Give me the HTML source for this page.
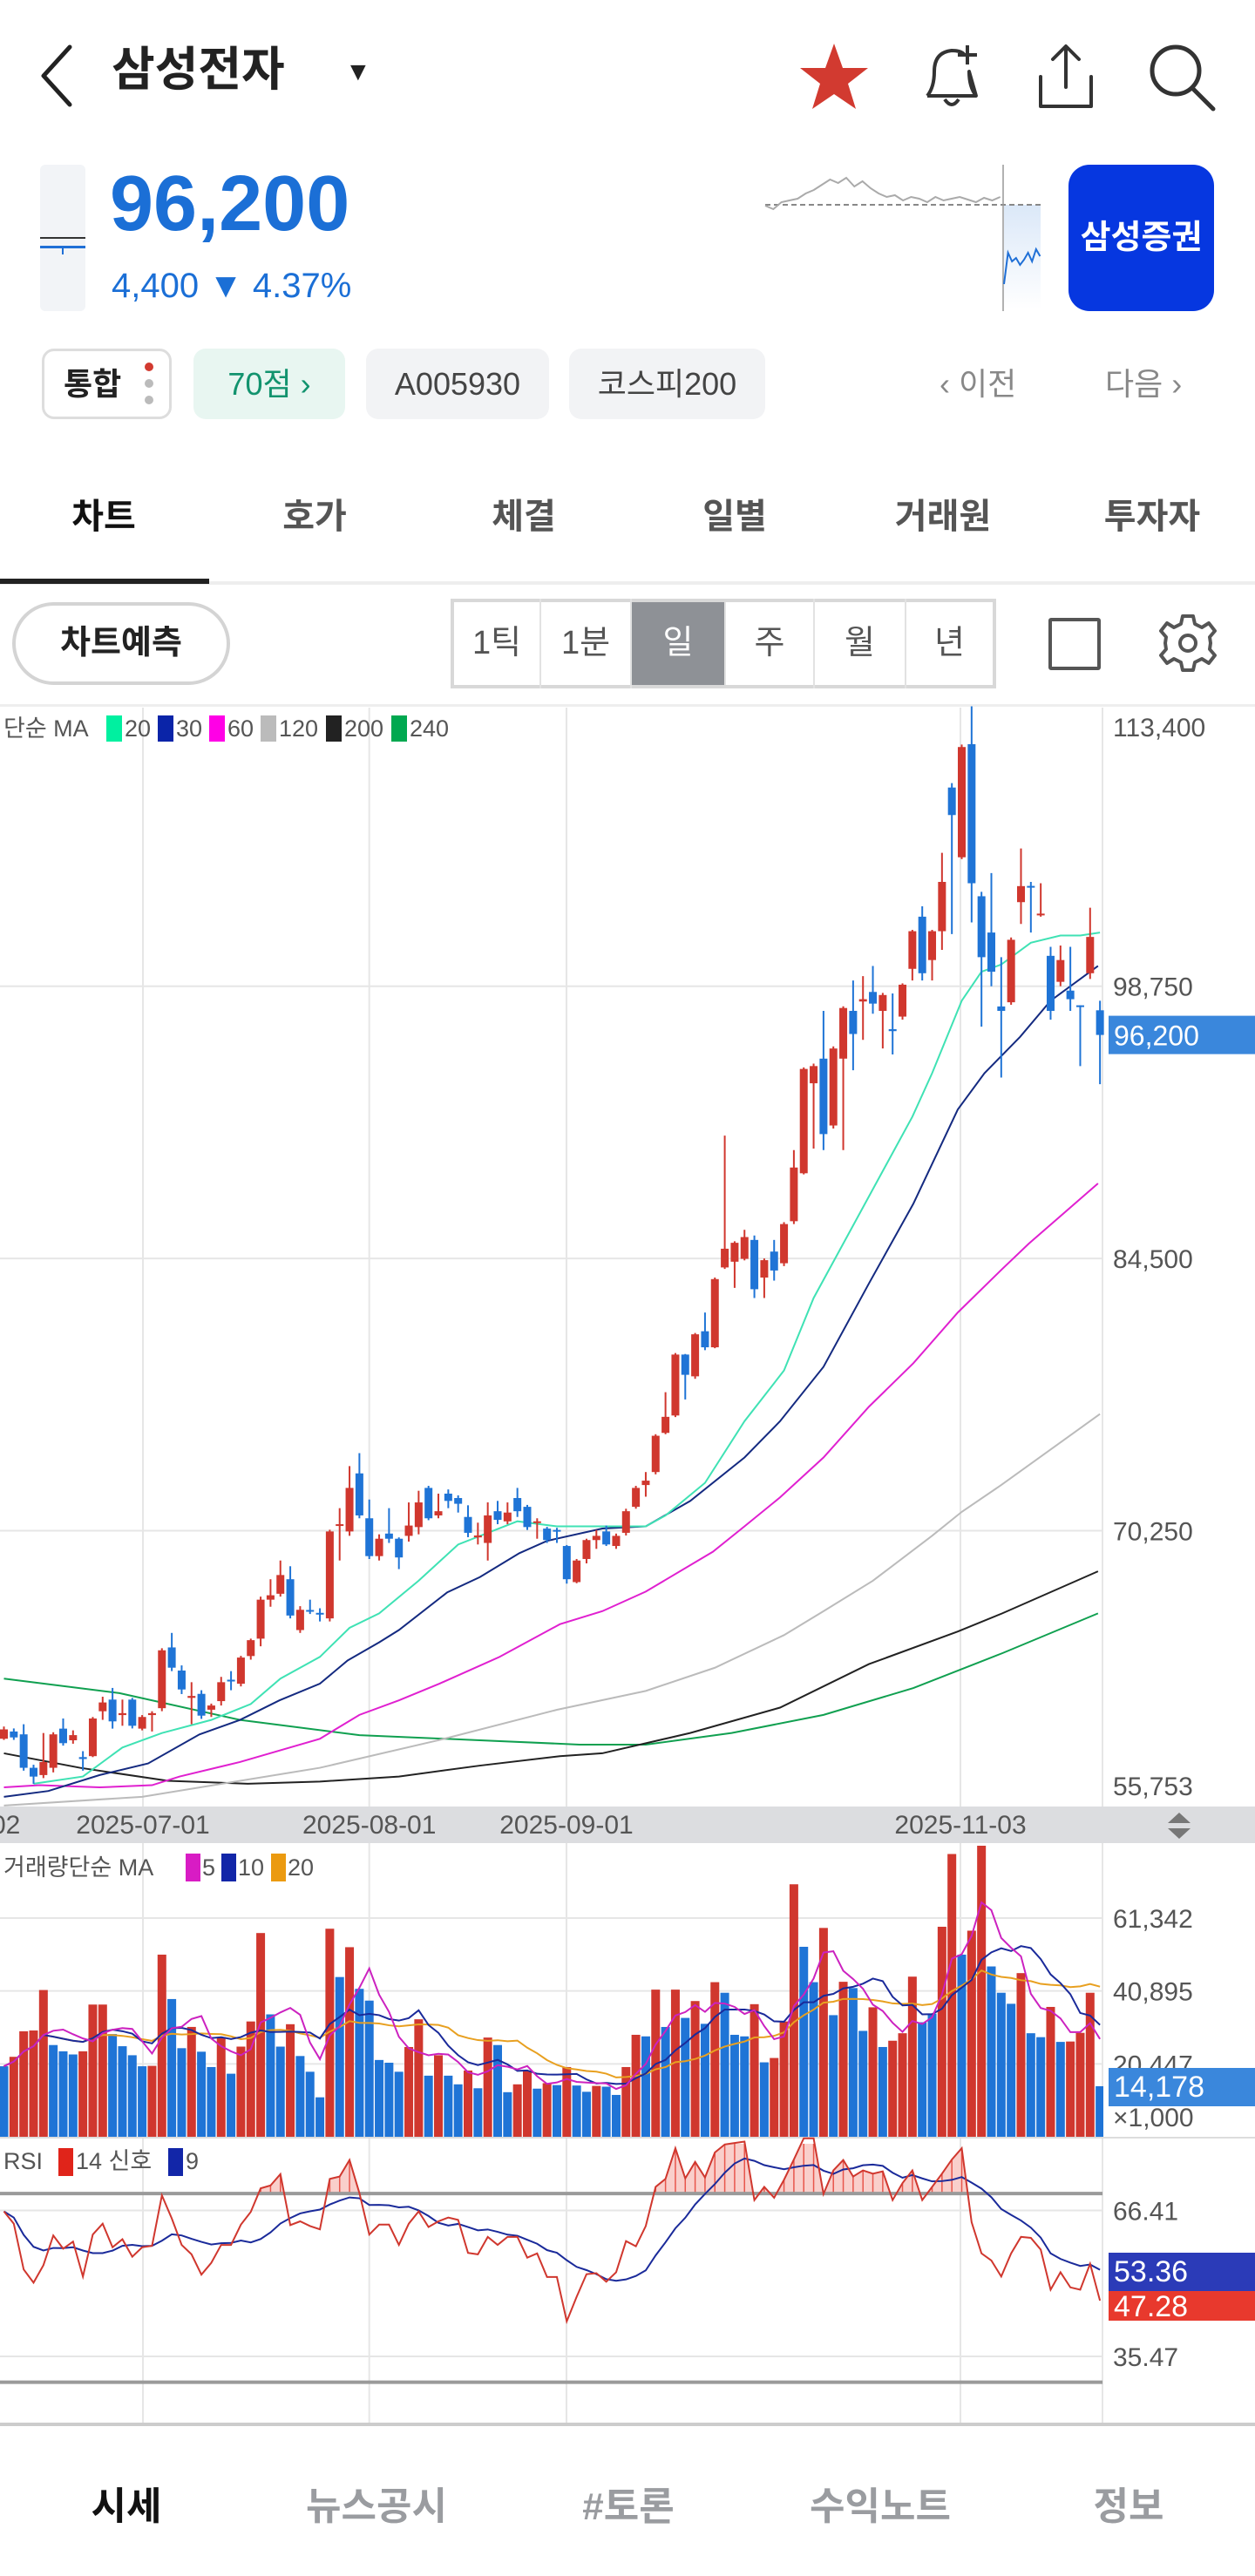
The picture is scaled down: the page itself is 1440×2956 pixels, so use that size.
<!DOCTYPE html>
<html lang="ko"><head><meta charset="utf-8">
<style>
*{box-sizing:border-box;margin:0;padding:0}
body{width:1440px;height:2956px;background:#fff;position:relative;overflow:hidden;font-family:"Liberation Sans","Noto Sans CJK KR",sans-serif;color:#222}
.abs{position:absolute}
.chip{position:absolute;top:400px;height:81px;border-radius:14px;background:#f2f3f5;font-size:36px;line-height:81px;text-align:center;color:#444}
.tab{position:absolute;top:560px;width:200px;margin-left:-100px;text-align:center;font-size:40px;font-weight:bold;color:#555}
.seg{position:absolute;top:687px;height:103px;line-height:103px;text-align:center;font-size:38px;color:#555;border-right:2px solid #e2e2e2}
.nav{position:absolute;top:2840px;font-size:44px;font-weight:bold;color:#9a9ca0;transform:translateX(-50%)}
</style></head><body>
<!-- header -->
<svg class="abs" style="left:40px;top:50px" width="50" height="75"><polyline points="40,4 10,37 40,70" fill="none" stroke="#222" stroke-width="5" stroke-linecap="round" stroke-linejoin="round"/></svg>
<div class="abs" style="left:128px;top:48px;font-size:54px;font-weight:bold;line-height:64px">삼성전자</div>
<div class="abs" style="left:396px;top:66px;font-size:30px">▼</div>
<svg class="abs" style="left:916px;top:48px" width="82" height="80"><polygon points="41,2 51,30 80,30 57,48 66,77 41,60 16,77 25,48 2,30 31,30" fill="#d23a30"/></svg>
<svg class="abs" style="left:1052px;top:48px" width="80" height="80"><path d="M12,62 Q20,52 20,34 Q20,12 40,10 Q50,10 54,14 M60,34 Q60,52 68,62 Z M12,62 L68,62 M32,66 Q40,78 48,66" fill="none" stroke="#333" stroke-width="4" stroke-linejoin="round"/><path d="M58,4 v22 M47,15 h22" stroke="#333" stroke-width="4"/></svg>
<svg class="abs" style="left:1186px;top:48px" width="75" height="80"><path d="M37,6 V52 M22,20 L37,5 L52,20 M8,40 V74 H66 V40" fill="none" stroke="#333" stroke-width="4" stroke-linejoin="round" stroke-linecap="round"/></svg>
<svg class="abs" style="left:1316px;top:48px" width="80" height="80"><circle cx="33" cy="33" r="27" fill="none" stroke="#333" stroke-width="5"/><line x1="52" y1="53" x2="76" y2="77" stroke="#333" stroke-width="5" stroke-linecap="round"/></svg>
<!-- price block -->
<div class="abs" style="left:46px;top:189px;width:52px;height:168px;background:#f2f4f7;border-radius:6px"></div>
<div class="abs" style="left:46px;top:272px;width:52px;height:2px;background:#333"></div>
<div class="abs" style="left:46px;top:282px;width:52px;height:3px;background:#1f6fd6"></div>
<div class="abs" style="left:71px;top:282px;width:2px;height:10px;background:#1f6fd6"></div>
<div class="abs" style="left:126px;top:184px;font-size:90px;font-weight:bold;color:#1b6fd6;line-height:100px">96,200</div>
<div class="abs" style="left:128px;top:304px;font-size:40px;color:#1b6fd6;line-height:48px">4,400 ▼ 4.37%</div>
<svg class="abs" style="left:870px;top:185px" width="340" height="175">
<defs><linearGradient id="mg" x1="0" y1="0" x2="0" y2="1"><stop offset="0" stop-color="#dbe8f8"/><stop offset="1" stop-color="#fff"/></linearGradient></defs>
<rect x="282" y="50" width="42" height="120" fill="url(#mg)"/>
<line x1="8" y1="50" x2="326" y2="50" stroke="#888" stroke-width="2" stroke-dasharray="6,4"/>
<line x1="281" y1="4" x2="281" y2="172" stroke="#999" stroke-width="1.5"/>
<polyline id="miniGray" fill="none" stroke="#aaa" stroke-width="2"/>
<polyline id="miniBlue" fill="none" stroke="#1f6fd6" stroke-width="2"/>
</svg>
<div class="abs" style="left:1226px;top:189px;width:167px;height:168px;background:#0637e0;border-radius:24px;color:#fff;font-size:38px;font-weight:bold;line-height:168px;text-align:center">삼성증권</div>
<!-- chips -->
<div class="chip" style="left:48px;width:149px;background:#fff;border:3px solid #ddd;color:#222;font-weight:bold;text-align:left;padding-left:22px;line-height:75px">통합</div>
<div class="abs" style="left:166px;top:416px;width:10px;height:10px;border-radius:5px;background:#d23a30"></div>
<div class="abs" style="left:166px;top:435px;width:10px;height:10px;border-radius:5px;background:#bbb"></div>
<div class="abs" style="left:166px;top:454px;width:10px;height:10px;border-radius:5px;background:#bbb"></div>
<div class="chip" style="left:222px;width:174px;background:#e8f6f1;color:#12936e">70점 ›</div>
<div class="chip" style="left:420px;width:210px">A005930</div>
<div class="chip" style="left:653px;width:225px">코스피200</div>
<div class="abs" style="left:1078px;top:412px;font-size:36px;color:#888">‹ 이전</div>
<div class="abs" style="left:1268px;top:412px;font-size:36px;color:#888">다음 ›</div>
<!-- tabs -->
<div class="tab" style="left:119px;color:#111">차트</div>
<div class="tab" style="left:361px">호가</div>
<div class="tab" style="left:601px">체결</div>
<div class="tab" style="left:843px">일별</div>
<div class="tab" style="left:1082px">거래원</div>
<div class="tab" style="left:1322px">투자자</div>
<div class="abs" style="left:0;top:667px;width:1440px;height:4px;background:#eee"></div>
<div class="abs" style="left:0;top:664px;width:240px;height:6px;background:#222"></div>
<!-- controls -->
<div class="abs" style="left:14px;top:691px;width:250px;height:95px;border:4px solid #d4d4d4;border-radius:48px;font-size:38px;font-weight:bold;line-height:87px;text-align:center">차트예측</div>
<div class="abs" style="left:517px;top:687px;width:626px;height:103px;border:4px solid #d8d8d8"></div>
<div class="seg" style="left:521px;width:100px">1틱</div>
<div class="seg" style="left:621px;width:104px">1분</div>
<div class="seg" style="left:725px;width:108px;background:#8e9196;color:#fff;top:691px;height:95px;line-height:95px">일</div>
<div class="seg" style="left:833px;width:102px">주</div>
<div class="seg" style="left:935px;width:105px">월</div>
<div class="seg" style="left:1040px;width:99px;border-right:none">년</div>
<div class="abs" style="left:1203px;top:709px;width:60px;height:60px;border:4px solid #555;border-radius:3px"></div>
<svg class="abs" style="left:1327px;top:702px" width="72" height="72"><g transform="translate(36,36)" fill="none" stroke="#555" stroke-width="4"><path d="M-6,-31 L6,-31 L8,-22 L16,-18 L24,-23 L31,-14 L25,-7 L26,0 L25,7 L31,14 L24,23 L16,18 L8,22 L6,31 L-6,31 L-8,22 L-16,18 L-24,23 L-31,14 L-25,7 L-26,0 L-25,-7 L-31,-14 L-24,-23 L-16,-18 L-8,-22 Z" stroke-linejoin="round"/><circle r="9"/></g></svg>
<div class="abs" style="left:0;top:808px;width:1440px;height:3px;background:#eee"></div>
<!-- chart -->
<svg id="chart" class="abs" style="left:0;top:800px" width="1440" height="1990" viewBox="0 800 1440 1990" font-family="Liberation Sans, Noto Sans CJK KR, sans-serif">
<defs><clipPath id="above70"><rect id="clipRect" x="0" y="2460" width="1265" height="57"/></clipPath></defs>
</svg>
<div class="abs" style="left:0;top:2780px;width:1440px;height:4px;background:#ccc"></div>
<div class="nav" style="left:145px;color:#111">시세</div>
<div class="nav" style="left:432px">뉴스공시</div>
<div class="nav" style="left:721px">#토론</div>
<div class="nav" style="left:1010px">수익노트</div>
<div class="nav" style="left:1295px">정보</div>
<script>
const miniGrayVals=[236,240,232,230,228,222,218,212,206,210,204,214,208,216,222,226,224,230,226,228,232,226,230,228,226,229,232,227,230,226];
const miniBlueVals=[326,290,300,296,304,298,290,300,286,294];
const candleOpen=[59360,59740,59590,57840,57460,57840,59890,59280,58400,58450,60800,61410,60600,61410,59890,60600,60960,64140,62930,61500,61710,60880,61330,62450,62240,63690,64600,66640,66950,67710,65050,66100,65950,65660,70500,70210,73250,70900,68920,70100,69830,69980,70440,72490,71050,72190,71960,70970,69900,69610,71270,70740,71960,71500,70700,70360,70290,69450,67560,68770,69760,70210,69450,70140,71500,72640,73320,75370,76280,79470,78330,80690,79850,84030,84330,84480,85470,83500,84860,84250,86450,88960,93670,94960,91460,94960,97460,97950,98450,97460,96500,97160,99660,102390,100120,101630,109150,105500,111420,103460,101560,97690,97910,103150,104000,102500,100340,98980,98520,97750,99430,97490];
const candleHigh=[60000,59900,60120,58000,59660,59700,60420,59800,58710,60500,61560,62020,61410,61500,60600,60800,64100,64900,63200,62320,61900,61200,62600,62900,63700,64600,66800,67710,68690,68390,66300,66640,66190,70300,71430,73630,74310,71880,70060,71430,69900,71730,72340,72600,72190,72410,72100,71580,70670,71730,71810,71730,72490,71600,70900,70450,70400,69500,68770,69830,70290,70520,70100,71400,72600,73320,75300,77500,79550,79500,80600,81670,83500,90930,85400,86000,85700,84500,85470,86400,90170,94500,94700,97460,95600,97700,99050,99280,99810,98400,98370,98900,101700,102930,101700,105730,109380,111400,113400,103690,104670,100270,101300,105960,104210,104140,100810,100880,100810,97750,102860,97990];
const candleLow=[59300,59300,57690,57000,57300,57600,59000,59100,57690,58400,60350,59890,60040,59900,59800,59740,60800,62900,61700,60120,60400,60500,61100,61900,62100,63500,64200,66270,66800,65660,64900,65890,65500,65500,68690,69980,70900,68770,68690,69610,68240,69680,70060,70800,70900,71430,71200,69910,69530,68690,70590,70590,70970,70290,69830,69610,69610,67480,67500,68540,69300,69450,69300,70000,71400,72030,73200,75300,76200,77120,78200,79700,79800,83950,82960,84400,82430,82430,83340,84100,86300,88900,90250,90170,91300,90170,94350,95940,97310,95490,95180,97000,99050,99050,99050,100650,101480,105400,102090,96630,98750,93970,97780,102010,101560,102390,97000,98750,97460,94570,99130,93620];
const candleClose=[59850,59430,57840,57380,58140,59590,59130,59550,58300,60420,61260,60270,60700,60040,60500,60700,63990,63080,61940,61600,60570,61100,62320,62390,63610,64520,66640,66870,67930,65810,66110,66040,65890,70210,70590,72490,71050,68920,69830,69830,68850,70520,71730,70900,71270,71810,71660,70140,70000,71050,70820,71200,71270,70440,70740,69760,70200,67710,68690,69760,69980,69530,69980,71270,72490,72870,75220,76210,79470,78410,80530,79850,83420,85010,85320,85620,82890,84410,83870,86300,89260,94420,94570,91010,95490,97610,96250,98070,97840,98290,96400,98830,101630,99430,101630,104210,107710,111270,104140,100270,99510,97460,101180,103990,103910,102550,97460,100120,98070,97690,101330,96200];
const ma20Idx=[4,9,13,17,22,26,29,33,36,39,43,47,53,57,63,66,68,72,76,80,83,89,93,95,98,100,102,105,108,110,112];
const ma20Val=[57005,57384,58902,59661,60345,61179,62508,63646,65164,65923,67631,69528,70743,70477,70477,70477,71046,72754,75980,78636,82431,88124,91919,94196,97991,99509,99888,101027,101406,101406,101558];
const ma30Idx=[1,5.5,10.7,15.6,20.8,24.9,28.9,33,35.8,39,41,45.9,49.2,53.2,56,61.6,66,70.5,76,79.6,84,88.6,93.1,97.6,100.3,103.9,107,111.8];
const ma30Val=[56322,56625,57460,58068,59586,60345,61369,62242,63456,64405,65050,67024,67821,69073,69718,70363,70477,71805,74082,75980,78826,83190,87365,92298,94196,96093,97991,99813];
const ma60Idx=[1,4.6,10.7,16,18.8,24.9,33,37,41,45.1,51.2,57.3,61.6,66,72.8,76,79.6,84,88.6,93.1,97.6,102.1,104.8,111.8];
const ma60Val=[56815,56929,56815,56929,57384,58143,59358,60610,61369,62242,63646,65354,66037,67062,69149,70477,71995,74082,76739,79016,81672,83949,85278,88428];
const ma120Idx=[1,15,33,45,57,66,73,80,84,89,95,98,102,112];
const ma120Val=[55866,56322,57840,59282,60876,61863,63077,64785,66037,67631,69984,71236,72640,76359];
const ma200Idx=[1,8.7,17.6,25.7,33,41,49.2,57.3,61.6,70.5,79.6,88.6,97.6,102.1,111.8];
const ma200Val=[58599,57840,57157,57005,57119,57384,57954,58447,58599,59661,60990,63267,64974,65923,68124];
const ma240Idx=[1,12.7,24.9,37,49.2,59.3,66,74.7,84,93.1,102.1,111.8];
const ma240Val=[62508,61749,60345,59548,59282,59054,59054,59661,60610,62014,63836,65923];
const volume=[19781,22426,29590,29810,41160,25730,23970,23090,23970,37080,37080,28820,25400,22870,19781,19890,51080,38630,24850,30810,23860,19560,27940,17690,25290,32340,57140,34330,25290,31570,22650,18240,11070,58350,44800,53170,41490,38190,21540,20770,18240,25180,32950,17140,22870,17140,14710,18570,13610,27830,25730,12510,14710,18460,13500,15040,14490,19560,14380,12620,14270,14050,11740,19560,28600,28160,41270,30800,41270,33340,38070,31680,43360,40390,28600,28160,37190,20880,22100,32340,70810,53280,43360,58570,34110,43470,41710,29700,36310,25180,26940,29040,44910,32120,34550,58900,79300,51080,57800,81720,47770,40390,37300,45900,29040,27940,36420,26610,26720,29150,40390,14178];
const volumeUp=[0,1,1,1,1,0,0,0,1,1,1,0,0,0,0,1,1,0,0,1,0,0,1,0,1,1,1,0,0,1,0,0,0,1,0,1,0,0,0,0,0,1,1,0,1,0,0,1,0,1,0,0,1,1,0,1,0,1,0,0,1,0,0,1,1,0,1,0,1,0,1,0,1,0,0,0,1,0,1,1,1,0,0,1,0,1,0,0,1,0,1,1,1,0,0,1,1,0,1,1,0,0,0,1,0,0,1,0,1,1,1,0];
const rsi=[66.2,63.6,53.9,51.1,54.8,61.1,58.3,59.8,52.4,61.3,63.6,58.6,60.3,56.6,58.6,58.9,69.6,64.7,59.1,57.1,52.8,55.3,59.1,59.1,63.4,66.1,71.1,71.7,74.1,63.3,64.1,63.1,62.4,73.1,73.6,77.1,70.1,61.3,63.4,63.4,59.1,63.6,66.2,62.9,64.1,64.9,64.4,57.4,57.1,60.8,59.1,60.8,60.8,56.4,57.3,52.3,52.3,42.9,48.1,52.9,53.1,51.3,53.3,59.9,58.8,63.1,71.4,73.1,79.6,73.2,76.7,73.4,78.7,80.4,80.7,81.0,68.6,71.4,69.1,72.9,77.2,81.7,81.7,69.9,74.9,77.1,73.6,74.9,74.2,74.7,68.6,72.2,74.9,68.6,71.4,74.2,77.2,79.6,63.9,57.3,55.8,52.4,57.3,60.8,60.6,58.1,49.6,53.3,50.1,49.6,55.1,47.28];
const rsiSignalLast=53.36;
const priceTicks=[113400,98750,84500,70250,55753];
const priceTickLabels=["113,400","98,750","84,500","70,250","55,753"];
const volTicks=[61342,40895,20447];
const volTickLabels=["61,342","40,895","20,447"];
const rsiTicks=[66.41,35.47];
const dateIdx=[14.08,37.0,56.97,96.87];
const dateLabels=["2025-07-01","2025-08-01","2025-09-01","2025-11-03"];

const NS="http://www.w3.org/2000/svg";
const svg=document.getElementById('chart');
function el(tag,attrs,parent){const e=document.createElementNS(NS,tag);for(const k in attrs)e.setAttribute(k,attrs[k]);(parent||svg).appendChild(e);return e;}
const PLOT_R=1265, X0=4.5, STEP=11.33;
const xAt=i=>X0+i*STEP;
const yPrice=p=>1131.7+(98750-p)*0.021923;
const VOL_BASE=2452, yVol=v=>VOL_BASE-v*0.004092;
const yRsi=r=>2536.5+(66.41-r)*5.413;
const RED="#d0372e", BLUE="#1f74d6";

// mini chart
(function(){
  const g=document.getElementById('miniGray');
  g.setAttribute('points',miniGrayVals.map((v,i)=>(8+i*9.3)+','+(v-185)).join(' '));
  const b=document.getElementById('miniBlue');
  b.setAttribute('points',miniBlueVals.map((v,i)=>(282+i*4.6)+','+(v-185)).join(' '));
})();

// grid
const grid=el('g',{});


priceTicks.slice(1,4).forEach(p=>el('line',{x1:0,x2:PLOT_R,y1:yPrice(p),y2:yPrice(p),stroke:'#e6e6e6','stroke-width':2},grid));
volTicks.forEach(v=>el('line',{x1:0,x2:PLOT_R,y1:yVol(v),y2:yVol(v),stroke:'#e6e6e6','stroke-width':2},grid));
rsiTicks.forEach(r=>el('line',{x1:0,x2:PLOT_R,y1:yRsi(r),y2:yRsi(r),stroke:'#e6e6e6','stroke-width':2},grid));
dateIdx.forEach(d=>el('line',{x1:xAt(d),x2:xAt(d),y1:812,y2:2780,stroke:'#e6e6e6','stroke-width':2},grid));
el('line',{x1:PLOT_R,x2:PLOT_R,y1:812,y2:2780,stroke:'#e6e6e6','stroke-width':2},grid);
el('line',{x1:0,x2:1440,y1:2453,y2:2453,stroke:'#ddd','stroke-width':2},grid);

// MA lines
function maLine(idx,vals,color,name){
  const pts=idx.map((d,k)=>xAt(d-1)+','+yPrice(vals[k])).join(' ');
  const l=el('polyline',{points:pts,fill:'none',stroke:color,'stroke-width':2});
  
  
}
maLine(ma240Idx,ma240Val,'#10a050','ma-240-line');
maLine(ma200Idx,ma200Val,'#222','ma-200-line');
maLine(ma120Idx,ma120Val,'#bbbbbb','ma-120-line');
maLine(ma60Idx,ma60Val,'#e020d0','ma-60-line');
maLine(ma30Idx,ma30Val,'#142a80','ma-30-line');
maLine(ma20Idx,ma20Val,'#3fe2b4','ma-20-line');

// candles
const cg=el('g',{});


candleClose.forEach((c,i)=>{
  const o=candleOpen[i],up=c>=o,col=up?RED:BLUE,x=xAt(i);
  const w=el('line',{x1:x,x2:x,y1:yPrice(candleHigh[i]),y2:yPrice(candleLow[i]),stroke:col,'stroke-width':2},cg);
  
  
  const top=yPrice(Math.max(o,c)),bot=yPrice(Math.min(o,c));
  const r=el('rect',{x:x-4.5,y:top,width:9,height:Math.max(2,bot-top),fill:col},cg);
  
  
});

// price axis labels
priceTicks.forEach((p,k)=>{
  const y=k===0?845:(k===4?2060:yPrice(p)+11);
  const t=el('text',{x:1277,y:y,'font-size':30,fill:'#555'});
  t.textContent=priceTickLabels[k];
  
  
});
const cp=el('rect',{x:1272,y:yPrice(candleClose[111])-22,width:168,height:44,fill:'#3a87dc'});


const cpt=el('text',{x:1278,y:yPrice(candleClose[111])+12,'font-size':32,fill:'#fff'});
cpt.textContent=candleClose[111].toLocaleString('en-US');



// legend
const lg=el('g',{});


el('text',{x:4,y:845,'font-size':27,fill:'#555'},lg).textContent='단순 MA';
const legItems=[['20','#00f0a0'],['30','#0a24a8'],['60','#ff00e6'],['120','#bbb'],['200','#222'],['240','#00a850']];
let lx=122;
legItems.forEach(([n,c])=>{el('rect',{x:lx,y:821,width:18,height:30,fill:c},lg);const t=el('text',{x:lx+21,y:845,'font-size':27,fill:'#555'},lg);t.textContent=n;lx+=21+n.length*16+6;});

// date strip
el('rect',{x:0,y:2073,width:1440,height:42,fill:'#dcdde0'});
const dt=el('text',{x:-10,y:2104,'font-size':30,fill:'#555'});dt.textContent='02';
dateLabels.forEach((d,k)=>{const t=el('text',{x:xAt(dateIdx[k]),y:2104,'font-size':30,fill:'#555','text-anchor':'middle'});t.textContent=d;});
el('polygon',{points:'1340,2092 1366,2092 1353,2080',fill:'#777'});
el('polygon',{points:'1340,2098 1366,2098 1353,2110',fill:'#777'});

// volume
const vg=el('g',{});


volume.forEach((v,i)=>{
  const y=Math.max(2118,yVol(v));
  const r=el('rect',{x:xAt(i)-5,y:y,width:10,height:VOL_BASE-y,fill:volumeUp[i]?RED:BLUE},vg);
  
  
});
function sma(arr,n){return arr.map((_,i)=>{const s=arr.slice(Math.max(0,i-n+1),i+1);return s.reduce((a,b)=>a+b,0)/s.length;});}
[[20,'#e8a020','volume-ma-20'],[10,'#1a2a9a','volume-ma-10'],[5,'#cc22c0','volume-ma-5']].forEach(([n,c,name])=>{
  const m=sma(volume,n);
  const l=el('polyline',{points:m.map((v,i)=>xAt(i)+','+yVol(v)).join(' '),fill:'none',stroke:c,'stroke-width':2});
  
  
});
el('rect',{x:1266,y:2118,width:174,height:334,fill:'#fff'});
volTicks.forEach((v,k)=>{const t=el('text',{x:1277,y:yVol(v)+11,'font-size':30,fill:'#555'});t.textContent=volTickLabels[k];});
el('rect',{x:1272,y:2373,width:168,height:44,fill:'#3a87dc'});
el('text',{x:1278,y:2406,'font-size':34,fill:'#fff'}).textContent=volume[111].toLocaleString('en-US');
el('text',{x:1277,y:2440,'font-size':30,fill:'#555'}).textContent='×1,000';
const vl=el('g',{});
el('text',{x:4,y:2152,'font-size':27,fill:'#555'},vl).textContent='거래량단순 MA';
[['5','#d81cc4'],['10','#1226a8'],['20','#eb9a10']].reduce((x,[n,c])=>{el('rect',{x:x,y:2127,width:17,height:32,fill:c},vl);el('text',{x:x+19,y:2152,'font-size':27,fill:'#555'},vl).textContent=n;return x+19+n.length*16+6;},213);

// RSI
const y70=yRsi(70),y30=yRsi(30);
document.getElementById('clipRect').setAttribute('height',y70-2460);
const rg=el('g',{});
rg.setAttribute('clip-path','url(#above70)');


const rpts=rsi.map((r,i)=>xAt(i)+','+yRsi(r));
el('polygon',{points:xAt(0)+','+y70+' '+rpts.join(' ')+' '+xAt(111)+','+y70,fill:'#f9cfcb'},rg);
rsi.forEach((r,i)=>{if(r>70)el('line',{x1:xAt(i),x2:xAt(i),y1:yRsi(r),y2:y70,stroke:'#e8564c','stroke-width':1.5},rg);});
el('line',{x1:0,x2:PLOT_R,y1:y70,y2:y70,stroke:'#9a9a9a','stroke-width':4});
el('line',{x1:0,x2:PLOT_R,y1:y30,y2:y30,stroke:'#9a9a9a','stroke-width':4});
const sig=sma(rsi,9);
const sl=el('polyline',{points:sig.map((r,i)=>xAt(i)+','+yRsi(r)).join(' '),fill:'none',stroke:'#1a2a9a','stroke-width':2});


const rl=el('polyline',{points:rpts.join(' '),fill:'none',stroke:'#d0372e','stroke-width':2});


rsiTicks.forEach(r=>{const t=el('text',{x:1277,y:yRsi(r)+11,'font-size':30,fill:'#555'});t.textContent=r.toFixed(2);});
el('rect',{x:1272,y:2585,width:168,height:44,fill:'#2b3bb8'});
el('text',{x:1278,y:2618,'font-size':34,fill:'#fff'}).textContent=rsiSignalLast.toFixed(2);
el('rect',{x:1272,y:2629,width:168,height:34,fill:'#e8392d'});
el('text',{x:1278,y:2658,'font-size':34,fill:'#fff'}).textContent=rsi[111].toFixed(2);
const rlg=el('g',{});
el('text',{x:4,y:2489,'font-size':27,fill:'#555'},rlg).textContent='RSI';
el('rect',{x:67,y:2465,width:17,height:32,fill:'#e0241a'},rlg);
el('text',{x:87,y:2489,'font-size':27,fill:'#555'},rlg).textContent='14 신호';
el('rect',{x:193,y:2465,width:17,height:32,fill:'#1226a8'},rlg);
el('text',{x:213,y:2489,'font-size':27,fill:'#555'},rlg).textContent='9';
</script>
</body></html>
